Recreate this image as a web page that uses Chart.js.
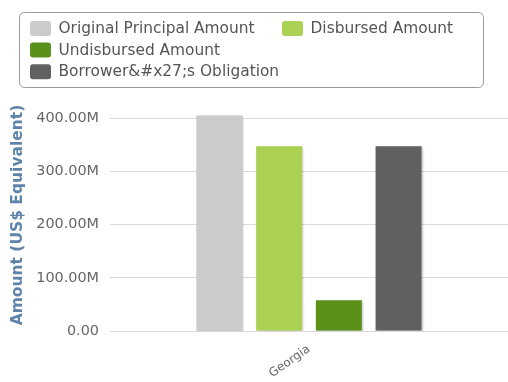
<!DOCTYPE html>
<html>
<head>
<meta charset="utf-8">
<script src="https://cdn.jsdelivr.net/npm/chart.js@4/dist/chart.umd.min.js"></script>
<style>
  html, body { margin: 0; padding: 0; background: #ffffff; }
  #wrap { position: relative; width: 508px; height: 382px; }
</style>
</head>
<body>
<div id="wrap"><canvas id="c" width="508" height="382"></canvas></div>
<script>
// ---- data ----
const categories = ['Georgia'];
const seriesNames = ['Original Principal Amount', 'Disbursed Amount', 'Undisbursed Amount', 'Borrower&#x27;s Obligation'];
const originalPrincipal = [405e6];
const disbursed = [347e6];
const undisbursed = [58e6];
const borrowerObligation = [347e6];
const yTicks = [0, 100e6, 200e6, 300e6, 400e6];
const yAxisTitle = 'Amount (US$ Equivalent)';

const colors = ['#cbcbcb', '#aad152', '#5b9019', '#606060'];
const FONT = "'DejaVu Sans', sans-serif";

const legendPlugin = {
  id: 'boxLegend',
  afterDraw(chart) {
    const ctx = chart.ctx;
    ctx.save();
    const x = 19.5, y = 12.5, w = 464, h = 75, r = 5;
    ctx.beginPath();
    ctx.moveTo(x + r, y);
    ctx.arcTo(x + w, y, x + w, y + h, r);
    ctx.arcTo(x + w, y + h, x, y + h, r);
    ctx.arcTo(x, y + h, x, y, r);
    ctx.arcTo(x, y, x + w, y, r);
    ctx.closePath();
    ctx.strokeStyle = '#9a9a9a';
    ctx.lineWidth = 1;
    ctx.stroke();
    const slots = [[30, 21], [282, 21], [30, 42.5], [30, 64.3]];
    ctx.font = '15.4px ' + FONT;
    ctx.textBaseline = 'middle';
    chart.data.datasets.forEach((ds, i) => {
      const [sx, sy] = slots[i];
      ctx.fillStyle = ds.backgroundColor;
      ctx.beginPath();
      if (ctx.roundRect) ctx.roundRect(sx, sy, 21, 15, 3); else ctx.rect(sx, sy, 21, 15);
      ctx.fill();
      ctx.fillStyle = '#555555';
      ctx.fillText(ds.label, sx + 28.5, sy + 8);
    });
    ctx.restore();
  }
};

const shadowPlugin = {
  id: 'barShadow',
  beforeDatasetsDraw(chart) {
    const ctx = chart.ctx;
    ctx.save();
    ctx.shadowColor = 'rgba(0,0,0,0.22)';
    ctx.shadowOffsetX = 1;
    ctx.shadowOffsetY = 1;
    ctx.shadowBlur = 2;
  },
  afterDatasetsDraw(chart) {
    chart.ctx.restore();
  }
};

const seriesData = [originalPrincipal, disbursed, undisbursed, borrowerObligation];

new Chart(document.getElementById('c'), {
  type: 'bar',
  data: {
    labels: categories,
    datasets: seriesData.map((d, i) => ({
      label: seriesNames[i],
      data: d,
      backgroundColor: colors[i],
      borderWidth: 0,
      categoryPercentage: 0.6,
      barPercentage: 0.77
    }))
  },
  options: {
    responsive: false,
    animation: false,
    devicePixelRatio: 1,
    layout: { padding: { top: 99, right: 0, left: 0, bottom: 0 } },
    plugins: {
      legend: { display: false },
      tooltip: { enabled: false }
    },
    scales: {
      x: {
        grid: { display: false, drawTicks: false },
        border: { display: false },
        ticks: {
          color: '#666666',
          font: { family: FONT, size: 12 },
          minRotation: 35,
          maxRotation: 35,
          padding: 11
        },
        afterFit(scale) { scale.height = 51; }
      },
      y: {
        min: 0,
        max: 436e6,
        border: { display: false },
        grid: { color: '#d9d9d9', lineWidth: 1, drawTicks: false },
        afterBuildTicks(scale) { scale.ticks = yTicks.map(v => ({ value: v })); },
        ticks: {
          color: '#666666',
          font: { family: FONT, size: 14.4 },
          padding: 11,
          callback: v => v === 0 ? '0.00' : (v / 1e6).toFixed(2) + 'M'
        },
        title: {
          display: true,
          text: yAxisTitle,
          color: '#5f84aa',
          font: { family: FONT, size: 15.5, weight: 'bold' },
          padding: { top: 9, bottom: 0 }
        },
        afterFit(scale) { scale.width = 110; }
      }
    }
  },
  plugins: [shadowPlugin, legendPlugin]
});
</script>
</body>
</html>
